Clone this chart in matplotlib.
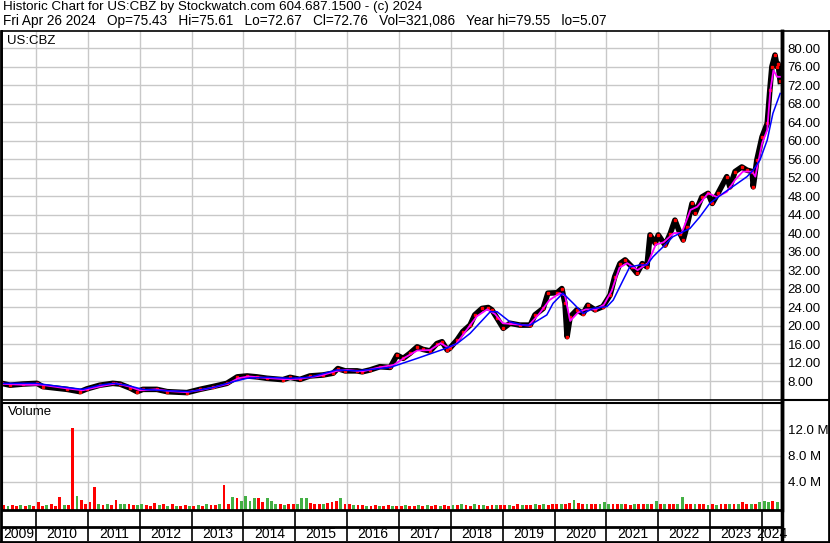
import numpy as np
import matplotlib
matplotlib.use("Agg")
import matplotlib.pyplot as plt
from matplotlib.lines import Line2D

plt.rcParams['font.family'] = ['Liberation Sans', 'DejaVu Sans']

# ---- data (decimal years) ----
close_t = [2009.34, 2009.50, 2009.75, 2010.02, 2010.13, 2010.60, 2010.85, 2010.98, 2011.23, 2011.48,
           2011.62, 2011.81, 2011.95, 2012.06, 2012.33, 2012.53, 2012.91, 2013.16, 2013.41, 2013.68,
           2013.88, 2014.07, 2014.26, 2014.45, 2014.76, 2014.90, 2015.09, 2015.28, 2015.53, 2015.73,
           2015.82, 2015.96, 2016.19, 2016.29, 2016.44, 2016.63, 2016.83, 2016.96, 2017.08, 2017.21,
           2017.35, 2017.46, 2017.60, 2017.73, 2017.83, 2017.93, 2017.98, 2018.12, 2018.23, 2018.37,
           2018.46, 2018.60, 2018.72, 2018.79, 2018.89, 2019.01, 2019.14, 2019.33, 2019.53, 2019.62,
           2019.78, 2019.87, 2020.05, 2020.14, 2020.20, 2020.24, 2020.30, 2020.43, 2020.55, 2020.64,
           2020.78, 2020.93, 2021.07, 2021.16, 2021.26, 2021.36, 2021.49, 2021.59, 2021.69, 2021.78,
           2021.84, 2021.94, 2022.00, 2022.13, 2022.23, 2022.32, 2022.42, 2022.48, 2022.55, 2022.65,
           2022.71, 2022.84, 2022.96, 2023.04, 2023.15, 2023.32, 2023.38, 2023.48, 2023.61, 2023.71,
           2023.81, 2023.83, 2023.90, 2024.00, 2024.10, 2024.15, 2024.19, 2024.25, 2024.29, 2024.31,
           2024.35]
close_v = [7.5, 7.1, 7.35, 7.5, 6.8, 6.2, 5.7, 6.3, 7.1, 7.5,
           7.35, 6.5, 5.7, 6.2, 6.2, 5.7, 5.5, 6.2, 6.8, 7.5,
           8.9, 9.1, 8.9, 8.6, 8.3, 8.8, 8.35, 9.1, 9.3, 9.7,
           10.7, 10.2, 10.2, 10.0, 10.4, 11.1, 10.95, 13.6, 12.9, 14.0,
           15.4, 14.85, 14.5, 16.1, 16.5, 14.7, 15.1, 16.9, 18.7, 20.1,
           22.3, 23.7, 23.9, 23.4, 21.6, 19.4, 20.5, 20.1, 20.1, 22.3,
           23.7, 27.0, 27.1, 28.0, 24.8, 17.6, 21.9, 23.4, 22.6, 24.4,
           23.4, 24.1, 26.6, 30.6, 33.4, 34.2, 32.7, 31.3, 33.4, 32.7,
           39.6, 37.8, 39.6, 37.4, 39.9, 42.8, 39.9, 38.5, 41.4, 46.4,
           44.3, 47.8, 48.6, 46.4, 48.6, 52.2, 50.0, 53.3, 54.3, 53.6,
           53.3, 50.0, 55.8, 60.8, 63.7, 70.9, 76.0, 78.5, 76.0, 76.6,
           72.8]

ma_short_t = [2009.34, 2009.75, 2010.10, 2010.60, 2010.90, 2011.30, 2011.55, 2011.80, 2012.00, 2012.30,
              2012.60, 2012.90, 2013.20, 2013.45, 2013.70, 2013.90, 2014.10, 2014.40, 2014.80, 2015.10,
              2015.50, 2015.80, 2016.00, 2016.30, 2016.60, 2016.90, 2017.10, 2017.35, 2017.60, 2017.80,
              2017.95, 2018.10, 2018.30, 2018.50, 2018.70, 2018.85, 2019.00, 2019.20, 2019.50, 2019.70,
              2019.90, 2020.10, 2020.20, 2020.30, 2020.45, 2020.60, 2020.80, 2020.95, 2021.10, 2021.25,
              2021.40, 2021.60, 2021.80, 2021.95, 2022.10, 2022.30, 2022.45, 2022.62, 2022.75, 2022.96,
              2023.13, 2023.32, 2023.48, 2023.63, 2023.81, 2023.87, 2024.00, 2024.10, 2024.16, 2024.22,
              2024.29, 2024.35]
ma_short_v = [7.4, 7.2, 7.2, 6.4, 6.0, 7.0, 7.5, 6.8, 6.0, 6.2,
              5.8, 5.6, 6.1, 6.7, 7.4, 8.6, 9.0, 8.7, 8.4, 8.5,
              9.2, 10.2, 10.4, 10.1, 10.9, 11.5, 13.0, 14.6, 14.7, 16.2,
              15.2, 16.0, 19.0, 22.0, 23.5, 22.5, 20.5, 20.3, 20.0, 22.5,
              25.5, 27.0, 26.5, 21.0, 22.8, 23.5, 23.5, 24.5, 27.5, 32.5,
              33.5, 32.0, 33.5, 37.5, 38.0, 40.0, 40.0, 45.0, 45.7, 48.6,
              47.8, 48.9, 51.5, 53.3, 53.3, 52.2, 59.4, 62.3, 70.9, 75.2,
              73.8, 73.8]

ma_long_t = [2009.34, 2010.02, 2010.13, 2010.60, 2010.90, 2011.23, 2011.48, 2011.75, 2012.06, 2012.53,
             2012.97, 2013.41, 2013.80, 2014.07, 2014.45, 2014.90, 2015.28, 2015.80, 2016.19, 2016.83,
             2017.35, 2017.85, 2018.12, 2018.37, 2018.76, 2018.89, 2019.14, 2019.39, 2019.53, 2019.85,
             2019.97, 2020.16, 2020.36, 2020.55, 2020.74, 2021.01, 2021.13, 2021.32, 2021.45, 2021.65,
             2021.78, 2021.90, 2022.09, 2022.28, 2022.48, 2022.61, 2022.80, 2022.99, 2023.25, 2023.52,
             2023.71, 2023.83, 2023.96, 2024.10, 2024.21, 2024.35]
ma_long_v = [7.5, 7.5, 7.3, 6.6, 6.2, 7.1, 7.5, 7.1, 6.2, 5.9,
             5.7, 6.6, 7.85, 8.6, 8.8, 8.6, 8.8, 10.4, 10.2, 10.95,
             12.9, 14.85, 16.1, 18.3, 23.0, 23.0, 20.8, 20.1, 20.1, 22.3,
             24.8, 27.0, 24.8, 22.6, 23.7, 24.1, 25.5, 29.8, 32.7, 33.1,
             33.1, 34.9, 37.0, 39.2, 40.3, 41.0, 43.5, 46.4, 48.6, 50.7,
             52.2, 53.6, 55.8, 60.1, 65.9, 70.2]

# monthly volume in millions, May 2009 .. Apr 2024
vol_m = [0.4, 0.3, 0.35, 0.3, 0.4, 0.3, 0.35, 0.3,
         0.9, 0.3, 0.35, 0.6, 0.3, 1.7, 0.4, 0.4, 12.3, 1.8, 1.1, 0.6,
         0.9, 3.1, 0.6, 0.4, 0.5, 0.4, 1.1, 0.6, 0.6, 0.5, 0.4, 0.4,
         0.6, 0.4, 0.3, 0.7, 0.4, 0.5, 0.3, 0.5, 0.3, 0.3, 0.4, 0.3,
         0.3, 0.4, 0.3, 0.5, 0.4, 0.4, 0.6, 3.5, 0.5, 1.6, 1.5, 1.0,
         1.8, 1.0, 1.4, 1.4, 0.8, 1.4, 1.0, 0.6, 0.5, 0.4, 0.6, 0.5,
         0.5, 1.4, 1.4, 0.7, 0.6, 0.6, 0.5, 0.7, 0.8, 1.0, 1.4, 0.6,
         0.6, 0.4, 0.4, 0.4, 0.3, 0.3, 0.35, 0.3, 0.3, 0.35, 0.3, 0.3,
         0.3, 0.35, 0.3, 0.3, 0.4, 0.3, 0.4, 0.3, 0.35, 0.3, 0.4, 0.3,
         0.4, 0.45, 0.6, 0.4, 0.3, 0.5, 0.35, 0.4, 0.3, 0.4, 0.45, 0.4,
         0.4, 0.4, 0.3, 0.5, 0.4, 0.45, 0.4, 0.5, 0.4, 0.5, 0.45, 0.5,
         0.6, 0.5, 0.6, 0.7, 1.1, 0.7, 0.5, 0.6, 0.5, 0.5, 0.6, 0.8,
         0.5, 0.6, 0.5, 0.5, 0.6, 0.4, 0.5, 0.5, 0.6, 0.5, 0.6, 1.0,
         0.6, 0.6, 0.5, 0.6, 0.5, 1.6, 0.6, 0.5, 0.5, 0.6, 0.5, 0.4,
         0.5, 0.4, 0.5, 0.5, 0.6, 0.5, 0.6, 0.9, 0.5, 0.5, 0.6, 0.8,
         1.0, 0.9, 1.0, 0.8]
vol_dir = ("rgrrgrgr"
           "rrgrrrgrrgrr" "rrgrgrrggrrg" "grrrgrgrgrrg" "rgrgrrgrrgrg"
           "gggrrgggrgrr" "gggrrrgrrrgr" "rgrrgrrgrrgr" "rgrrgrgrrgrr"
           "grgrrgrgrrgr" "rgrrgrrgrgrr" "rgrrgrrgrrgg" "grrgrrgrrgrg"
           "rgrrggrrgrrg" "rgrrgrgrrgrg"
           "ggrg")

years = list(range(2009, 2025))
price_ticks = list(range(8, 81, 4))
vol_ticks = [4, 8, 12]

title1 = "Historic Chart for US:CBZ by Stockwatch.com 604.687.1500 - (c) 2024"
title2 = ("Fri Apr 26 2024   Op=75.43   Hi=75.61   Lo=72.67   Cl=72.76   "
          "Vol=321,086   Year hi=79.55   lo=5.07")

# ---- layout in pixels ----
W, H = 830, 543
X0, X1 = 2, 782
XMIN, XMAX = 2009.344, 2024.385


def rect(x0, y0, x1, y1):
    return [x0 / W, 1 - y1 / H, (x1 - x0) / W, (y1 - y0) / H]


def hline(y, x0, x1, lw=1.0):
    fig.add_artist(Line2D([x0 / W, x1 / W], [1 - y / H, 1 - y / H],
                          transform=fig.transFigure, color='black', lw=lw))


def vline(x, y0, y1, lw=1.0):
    fig.add_artist(Line2D([x / W, x / W], [1 - y0 / H, 1 - y1 / H],
                          transform=fig.transFigure, color='black', lw=lw))


fig = plt.figure(figsize=(W / 100, H / 100), dpi=100)
grid_c = '#c8c8c8'

# price panel
ax1 = fig.add_axes(rect(X0, 31, X1, 400))
ax1.set_xlim(XMIN, XMAX)
ax1.set_ylim(3.9, 83.7)
for y in price_ticks:
    ax1.axhline(y, color=grid_c, lw=1.0, zorder=0)
for yr in years[1:]:
    ax1.axvline(yr, color=grid_c, lw=1.0, zorder=0)
ax1.plot(close_t, close_v, color='black', lw=4.0, solid_joinstyle='round', zorder=2)
ax1.plot(close_t, close_v, color='red', lw=0, marker='s', ms=1.8, zorder=3)
ax1.plot(ma_short_t, ma_short_v, color='#ff00ff', lw=1.3, zorder=4)
ax1.plot(ma_long_t, ma_long_v, color='#0000ff', lw=1.1, zorder=5)
ax1.set_xticks([])
ax1.yaxis.tick_right()
ax1.set_yticks(price_ticks)
ax1.set_yticklabels(["%.2f" % v for v in price_ticks])
ax1.tick_params(axis='y', length=0, pad=4, labelsize=9.5)
for s in ax1.spines.values():
    s.set_linewidth(1.2)
ax1.spines['right'].set_linewidth(2.5)
fig.text(7 / W, 1 - 35 / H, "US:CBZ", fontsize=9.5, va='top')

# volume panel
ax2 = fig.add_axes(rect(X0, 403, X1, 510))
ax2.set_xlim(XMIN, XMAX)
ax2.set_ylim(-0.38, 16.15)
for y in vol_ticks:
    ax2.axhline(y, color=grid_c, lw=1.0, zorder=0)
for yr in years[1:]:
    ax2.axvline(yr, color=grid_c, lw=1.0, zorder=0)
vt = 2009 + (4 + np.arange(len(vol_m)) + 0.5) / 12
vcol = ['#ff0000' if c == 'r' else '#44b044' for c in vol_dir]
ax2.bar(vt, np.array(vol_m) + 0.38, bottom=-0.38, width=0.055, color=vcol, zorder=2)
ax2.set_xticks([])
ax2.yaxis.tick_right()
ax2.set_yticks(vol_ticks)
ax2.set_yticklabels(["%.1f M" % v for v in vol_ticks])
ax2.tick_params(axis='y', length=0, pad=4, labelsize=9.5)
for s in ax2.spines.values():
    s.set_linewidth(1.5)
ax2.spines['right'].set_linewidth(2.5)
ax2.spines['bottom'].set_linewidth(2.0)
fig.text(8 / W, 1 - 406 / H, "Volume", fontsize=9.5, va='top')

# date strip
ax3 = fig.add_axes(rect(X0, 510, X1, 541))
ax3.set_xlim(XMIN, XMAX)
ax3.set_ylim(0, 1)
ax3.axis('off')
for yr in years[1:]:
    ax3.axvline(yr, color='black', lw=1.2)
ax3.axhline(14 / 31, color='black', lw=2.0)
for yr in years:
    lo = max(yr, XMIN)
    hi = min(yr + 1, XMAX)
    ax3.text((lo + hi) / 2, 7 / 31, str(yr), ha='center', va='center', fontsize=10)

# frame lines
hline(541.5, 0, W, lw=2.0)
vline(0.8, 31, 543, lw=2.0)
vline(828.5, 31, 543, lw=2.0)
vline(781.5, 31, 543, lw=2.5)
hline(31, 782, W, lw=1.2)
hline(400, 782, W, lw=1.5)

fig.text(3 / W, 1 - 1 / H, title1, fontsize=9.6, va='top')
fig.text(3 / W, 1 - 14 / H, title2, fontsize=9.8, va='top')

fig.savefig("out.png", dpi=100)
